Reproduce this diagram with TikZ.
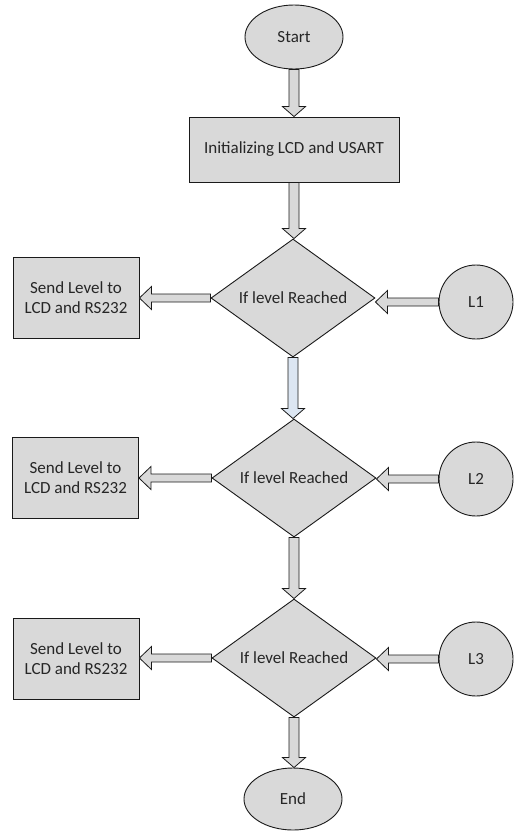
\documentclass[tikz,border=0pt]{standalone}
\usepackage{fontspec}
\setmainfont{Carlito}
\usetikzlibrary{shapes.geometric,calc}
\definecolor{boxgray}{HTML}{D9D9D9}
\definecolor{arrowblue}{HTML}{DCE6F2}
\definecolor{edgecol}{HTML}{1A1A1A}
\tikzset{
  shapebase/.style={draw=edgecol, line width=0.9pt, fill=boxgray, font=\fontsize{17}{20}\selectfont, text=black!85, inner sep=0pt},
  terminal/.style={shapebase, ellipse, minimum width=98pt, minimum height=64pt},
  procbox/.style={shapebase, rectangle, align=center},
  decision/.style={shapebase, diamond, aspect=1.4, minimum width=164pt, minimum height=118pt},
  levelnode/.style={shapebase, circle, minimum size=74pt},
  blkarrow/.style={draw=edgecol, line width=0.8pt, fill=boxgray, line join=miter},
}
% vertical block arrow from #2 down to #3
\newcommand{\blkdown}[3][boxgray]{%
  \draw[blkarrow, fill=#1] let \p1=(#2), \p2=(#3) in
    (\x1-5pt,\y1) -- (\x1+5pt,\y1) -- (\x1+5pt,\y2+10pt) -- (\x1+11.5pt,\y2+10pt)
    -- (\x1,\y2) -- (\x1-11.5pt,\y2+10pt) -- (\x1-5pt,\y2+10pt) -- cycle;}
% horizontal block arrow from #1 leftwards to #2
\newcommand{\blkleft}[2]{%
  \draw[blkarrow] let \p1=(#1), \p2=(#2) in
    (\x1,\y1+4pt) -- (\x1,\y1-4pt) -- (\x2+12pt,\y1-4pt) -- (\x2+12pt,\y1-11.5pt)
    -- (\x2,\y1) -- (\x2+12pt,\y1+11.5pt) -- (\x2+12pt,\y1+4pt) -- cycle;}
\begin{document}
\begin{tikzpicture}[x=1pt,y=-1pt]
\useasboundingbox (0,0) rectangle (516,831);
\node[terminal] (start) at (294,37) {Start};
\node[procbox, minimum width=210pt, minimum height=65pt] (init) at (294,149.5) {Initializing LCD and USART};

\node[decision] (d1) at (293,298) {If level Reached};
\node[decision] (d2) at (294,478) {If level Reached};
\node[decision] (d3) at (294,658) {If level Reached};

\node[procbox, minimum width=126pt, minimum height=81pt] (s1) at (76,297.5) {Send Level to\\LCD and RS232};
\node[procbox, minimum width=126pt, minimum height=81pt] (s2) at (75.5,478) {Send Level to\\LCD and RS232};
\node[procbox, minimum width=126pt, minimum height=81pt] (s3) at (76,659) {Send Level to\\LCD and RS232};

\node[levelnode] (l1) at (476,302) {L1};
\node[levelnode] (l2) at (476,479) {L2};
\node[levelnode] (l3) at (476,659) {L3};

\node[terminal, minimum height=62pt] (end) at (293,799) {End};

\blkdown{start.south}{init.north}
\blkdown{init.south}{d1.north}
\blkdown[arrowblue]{d1.south}{d2.north}
\blkdown{d2.south}{d3.north}
\blkdown{d3.south}{end.north}

\blkleft{d1.west}{s1.east}
\blkleft{d2.west}{s2.east}
\blkleft{d3.west}{s3.east}

\blkleft{l1.west}{d1.east}
\blkleft{l2.west}{d2.east}
\blkleft{l3.west}{d3.east}
\end{tikzpicture}
\end{document}
